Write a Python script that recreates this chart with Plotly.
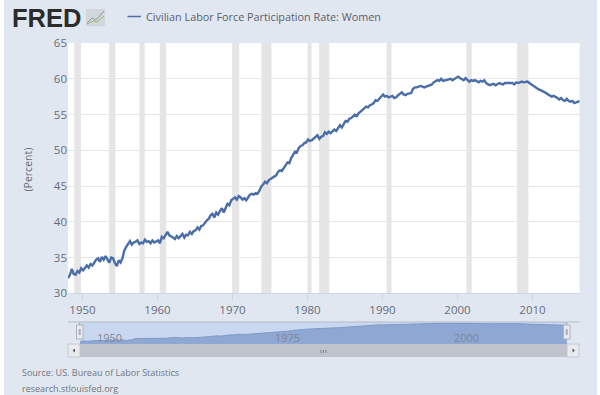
import plotly.graph_objects as go

W, H = 600, 395

SERIES_NAME = "Civilian Labor Force Participation Rate: Women"
START_YEAR = 1948.08
# quarterly readings, one row per year
v1948 = [32.1, 32.6, 33.4, 32.7]
v1949 = [32.6, 33.1, 32.9, 33.5]
v1950 = [33.2, 33.5, 33.9, 33.6]
v1951 = [34.1, 33.9, 34.4, 34.7]
v1952 = [34.9, 34.4, 35.1, 34.7]
v1953 = [35.2, 34.7, 34.3, 35.0]
v1954 = [34.9, 34.2, 33.8, 34.6]
v1955 = [34.3, 34.9, 36.0, 36.5]
v1956 = [37.0, 37.3, 36.8, 37.1]
v1957 = [37.2, 37.4, 36.9, 37.1]
v1958 = [37.0, 37.5, 37.2, 37.3]
v1959 = [37.0, 37.4, 37.1, 37.2]
v1960 = [37.4, 37.0, 37.9, 37.7]
v1961 = [38.2, 38.6, 38.1, 38.0]
v1962 = [37.8, 37.6, 38.0, 37.7]
v1963 = [38.0, 38.3, 37.8, 38.2]
v1964 = [38.1, 38.6, 38.3, 38.7]
v1965 = [38.8, 39.2, 38.9, 39.4]
v1966 = [39.5, 39.9, 40.2, 40.4]
v1967 = [40.9, 41.1, 40.6, 41.3]
v1968 = [41.0, 41.5, 41.9, 41.3]
v1969 = [42.0, 42.5, 42.3, 43.0]
v1970 = [43.2, 43.4, 43.1, 43.6]
v1971 = [43.4, 43.1, 43.3, 43.0]
v1972 = [43.4, 43.8, 43.9, 43.8]
v1973 = [44.0, 43.9, 44.3, 44.9]
v1974 = [45.2, 45.6, 45.4, 45.8]
v1975 = [46.0, 46.2, 46.4, 46.5]
v1976 = [47.0, 47.2, 47.1, 47.6]
v1977 = [47.9, 48.3, 48.2, 48.9]
v1978 = [49.3, 49.8, 49.7, 50.3]
v1979 = [50.6, 50.7, 51.0, 51.1]
v1980 = [51.5, 51.3, 51.4, 51.6]
v1981 = [51.9, 52.1, 51.6, 51.9]
v1982 = [52.0, 52.5, 52.3, 52.6]
v1983 = [52.4, 52.7, 52.9, 52.7]
v1984 = [53.1, 53.5, 53.2, 53.6]
v1985 = [54.1, 54.0, 54.4, 54.5]
v1986 = [54.7, 55.0, 54.8, 55.2]
v1987 = [55.4, 55.6, 55.9, 56.1]
v1988 = [56.0, 56.3, 56.4, 56.6]
v1989 = [57.0, 56.9, 57.2, 57.5]
v1990 = [57.8, 57.5, 57.6, 57.4]
v1991 = [57.5, 57.6, 57.3, 57.4]
v1992 = [57.7, 57.9, 58.1, 57.8]
v1993 = [57.7, 57.9, 58.0, 58.0]
v1994 = [58.6, 58.8, 58.8, 58.9]
v1995 = [59.0, 58.9, 58.8, 58.9]
v1996 = [59.0, 59.1, 59.2, 59.5]
v1997 = [59.7, 59.8, 59.7, 60.0]
v1998 = [59.7, 59.8, 59.9, 60.0]
v1999 = [60.0, 59.8, 60.0, 60.1]
v2000 = [60.3, 60.1, 59.9, 59.8]
v2001 = [60.1, 59.9, 59.6, 59.8]
v2002 = [59.7, 59.8, 59.6, 59.5]
v2003 = [59.7, 59.6, 59.8, 59.4]
v2004 = [59.2, 59.1, 59.2, 59.3]
v2005 = [59.1, 59.3, 59.4, 59.3]
v2006 = [59.2, 59.4, 59.4, 59.5]
v2007 = [59.4, 59.4, 59.2, 59.5]
v2008 = [59.4, 59.5, 59.6, 59.5]
v2009 = [59.6, 59.6, 59.4, 59.2]
v2010 = [59.0, 58.8, 58.6, 58.5]
v2011 = [58.4, 58.3, 58.1, 58.0]
v2012 = [57.8, 57.7, 57.5, 57.6]
v2013 = [57.5, 57.3, 57.1, 57.3]
v2014 = [57.0, 56.9, 57.2, 56.9]
v2015 = [56.8, 56.9, 56.6, 56.7]
v2016 = [56.7, 56.9]

rows = [globals()[f"v{y}"] for y in range(1948, 2017)]
values = [v for r in rows for v in r]
dates = [START_YEAR + i * 0.25 for i in range(len(values))]

recessions = [
    (1948.9, 1949.8), (1953.55, 1954.4), (1957.6, 1958.3), (1960.3, 1961.15),
    (1969.95, 1970.9), (1973.85, 1975.2), (1980.0, 1980.55), (1981.55, 1982.9),
    (1990.55, 1991.2), (2001.2, 2001.9), (2007.95, 2009.45),
]
year_ticks = [1950, 1960, 1970, 1980, 1990, 2000, 2010]
percent_ticks = [30, 35, 40, 45, 50, 55, 60, 65]
nav_labels = [1950, 1975, 2000]
X_RANGE = [1948.07, 2016.27]
Y_RANGE = [30, 65]
NAV_Y_RANGE = [28.5, 62]

FONT = "Open Sans"
TXT = "#666d78"


def px(x):
    return x / W


def py(y):
    return 1 - y / H


def box(x0, y0, x1, y1, fill, line=None, lw=1):
    return dict(type="rect", xref="paper", yref="paper", x0=px(x0), x1=px(x1),
                y0=py(y1), y1=py(y0), fillcolor=fill, layer="below",
                line=dict(color=line or fill, width=lw if line else 0))


def seg(x0, y0, x1, y1, color, lw=1):
    return dict(type="line", xref="paper", yref="paper", x0=px(x0), x1=px(x1),
                y0=py(y0), y1=py(y1), line=dict(color=color, width=lw))


fig = go.Figure()
fig.add_trace(go.Scatter(x=dates, y=values, mode="lines", name=SERIES_NAME,
                         line=dict(color="#4a6ea8", width=2.4), showlegend=False,
                         xaxis="x", yaxis="y"))
fig.add_trace(go.Scatter(x=dates, y=values, mode="lines", name=SERIES_NAME,
                         line=dict(color="#8099c8", width=1), fill="tozeroy",
                         fillcolor="#8fa8d3", showlegend=False,
                         xaxis="x2", yaxis="y2"))

# page edges are white, the panel colour is the paper colour
shapes = [box(0, 0, 4, 395, "#ffffff"), box(597, 0, 600, 395, "#ffffff")]
shapes += [dict(type="rect", xref="x", yref="paper", x0=a, x1=b,
                y0=py(293.3), y1=py(43), fillcolor="rgba(0,0,0,0.1)",
                line=dict(width=0), layer="below") for a, b in recessions]
shapes += [box(80, 322, 567, 344, "#c9d8f0")]
# navigator frame and scrollbar
shapes += [
    seg(68, 322, 579.5, 322, "#b4bac6", 1),
    box(80, 344, 567, 357, "#bfc4cc"),
    box(68, 344, 80, 357, "#e8eaee", "#c4c8d0"),
    box(567, 344, 579, 357, "#e8eaee", "#c4c8d0"),
    seg(321, 350, 321, 353, "#7d838d"), seg(323.5, 350, 323.5, 353, "#7d838d"),
    seg(326, 350, 326, 353, "#7d838d"),
    dict(box(76.5, 325, 83, 339, "#e9ebef", "#aeb3bd"), layer="above"),
    dict(box(563.5, 325, 570, 339, "#e9ebef", "#aeb3bd"), layer="above"),
    seg(79.7, 329, 79.7, 335, "#a8adb7", 2), seg(566.7, 329, 566.7, 335, "#a8adb7", 2),
    seg(79.5, 322, 79.5, 325, "#aeb3bd"), seg(567, 322, 567, 325, "#aeb3bd"),
    # legend key
    seg(127.5, 16.5, 141, 16.5, "#4a6ea8", 1.5),
    # logo mark
    box(86, 9, 105, 26, "#d2d7da"),
    dict(type="path", xref="paper", yref="paper", layer="above",
         path=f"M{px(87)},{py(23)} L{px(92)},{py(18)} L{px(96)},{py(20)} L{px(104)},{py(11)}",
         line=dict(color="#8a9aa8", width=1)),
    dict(type="path", xref="paper", yref="paper", layer="above",
         path=f"M{px(87)},{py(24)} L{px(93)},{py(21)} L{px(97)},{py(22)} L{px(104)},{py(16)}",
         line=dict(color="#9cb47e", width=1)),
    # scrollbar arrows
    dict(type="path", xref="paper", yref="paper", layer="above", fillcolor="#555b66",
         line=dict(width=0),
         path=f"M{px(72.5)},{py(350.5)} L{px(75)},{py(348.5)} L{px(75)},{py(352.5)} Z"),
    dict(type="path", xref="paper", yref="paper", layer="above", fillcolor="#555b66",
         line=dict(width=0),
         path=f"M{px(575)},{py(350.5)} L{px(572.5)},{py(348.5)} L{px(572.5)},{py(352.5)} Z"),
]

ann = [
    dict(text="<b>FRED</b>", x=px(9.5), y=py(17.5), xanchor="left", yanchor="middle",
         font=dict(family="Liberation Sans", size=25.5, color="#2b2b2b"), showarrow=False),
    dict(text=SERIES_NAME, x=px(144), y=py(16.5), xanchor="left", yanchor="middle",
         font=dict(family=FONT, size=10.8, color="#59606b"), showarrow=False),
    dict(text="Source: US. Bureau of Labor Statistics", x=px(19.5), y=py(372),
         xanchor="left", yanchor="middle",
         font=dict(family=FONT, size=9, color="#6f7680"), showarrow=False),
    dict(text="research.stlouisfed.org", x=px(19.5), y=py(388.5),
         xanchor="left", yanchor="middle",
         font=dict(family=FONT, size=9, color="#6f7680"), showarrow=False),
    dict(text="(Percent)", x=px(27.5), y=py(169), xanchor="center", yanchor="middle",
         textangle=-90, font=dict(family=FONT, size=10.5, color=TXT), showarrow=False),
]
for yr in nav_labels:
    ann.append(dict(text=str(yr), x=yr, xref="x2", y=py(337.5), yref="paper",
                    xanchor="left", xshift=1, yanchor="middle", showarrow=False,
                    font=dict(family=FONT, size=11, color="#7f8794")))
for a in ann:
    a.setdefault("xref", "paper")
    a.setdefault("yref", "paper")

fig.update_layout(
    width=W, height=H, autosize=False,
    margin=dict(l=0, r=0, t=0, b=0, pad=0),
    paper_bgcolor="#e1e7f1", plot_bgcolor="#ffffff",
    showlegend=False, shapes=shapes, annotations=ann,
    font=dict(family=FONT, color=TXT, size=12),
    xaxis=dict(domain=[px(68), px(579.5)], range=X_RANGE, tickvals=year_ticks,
               anchor="y", automargin=False, showgrid=False, zeroline=False,
               ticks="outside", ticklen=6, tickcolor="#ccd6eb", showline=True,
               linecolor="#ccd6eb",
               tickfont=dict(family=FONT, size=11.5, color=TXT)),
    yaxis=dict(domain=[py(293.3), py(43)], range=Y_RANGE, tickvals=percent_ticks,
               anchor="x", automargin=False, gridcolor="#e6e6e6", zeroline=False,
               showline=False, ticks="",
               tickfont=dict(family=FONT, size=11.5, color=TXT)),
    xaxis2=dict(domain=[px(80), px(567)], range=X_RANGE, anchor="y2", automargin=False,
                showgrid=False, zeroline=False, showticklabels=False, ticks=""),
    yaxis2=dict(domain=[py(344), py(322)], range=NAV_Y_RANGE, anchor="x2", automargin=False,
                showgrid=False, zeroline=False, showticklabels=False, ticks=""),
)

fig.write_html("out.html", config={"displayModeBar": False},
               post_script="document.body.style.margin='0';document.documentElement.style.overflow='hidden';")
